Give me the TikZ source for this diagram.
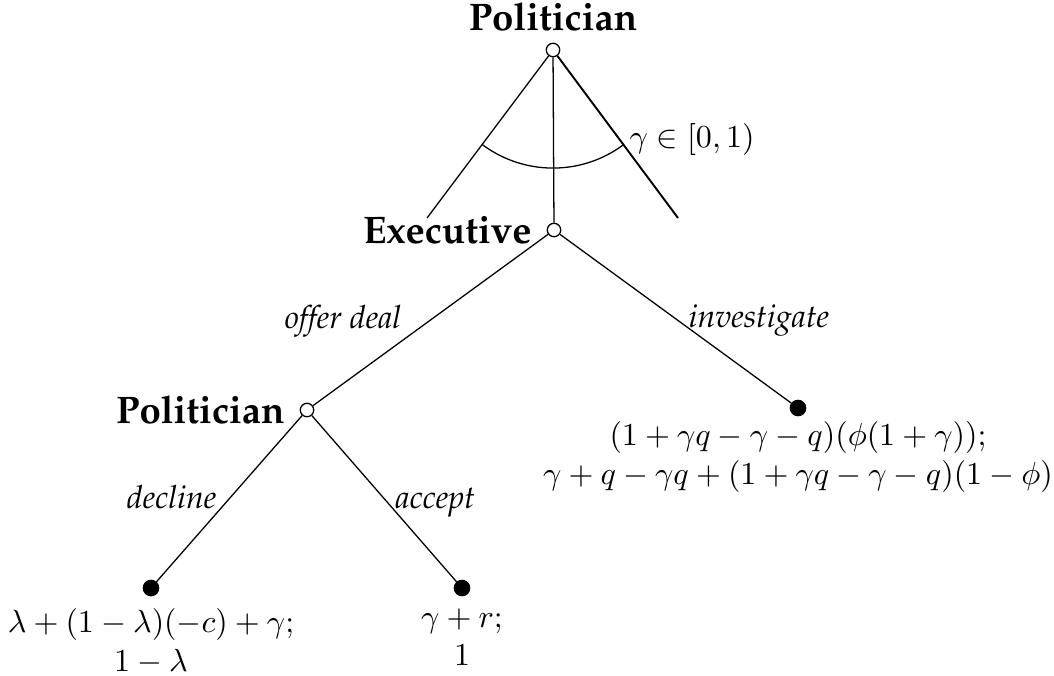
\documentclass[tikz,border=0pt]{standalone}
\usepackage[T1]{fontenc}
\renewcommand{\rmdefault}{ppl}
\usetikzlibrary{angles}
\tikzset{
  x=0.3125pt, y=-0.3125pt,
  opennode/.style={circle, draw, fill=white, inner sep=0pt, minimum size=4.2pt},
  leafnode/.style={circle, draw, fill=black, inner sep=0pt, minimum size=4.8pt},
  player/.style={font=\large\bfseries},
  edgelab/.style={font=\itshape, inner sep=0pt},
  payoff/.style={align=center, inner sep=0pt},
}
\begin{document}
\begin{tikzpicture}
\useasboundingbox (0,0) rectangle (1054,675);
% nodes
\node[opennode, label={[player, label distance=0pt]above:Politician}] (T) at (553,50) {};
\node[opennode, label={[player, label distance=1.2pt]left:Executive}] (E) at (554,230) {};
\node[opennode, label={[player, label distance=1.2pt]left:Politician}] (P) at (307,410) {};
\node[leafnode] (I) at (798,408) {};
\node[leafnode] (D) at (151,588) {};
\node[leafnode] (A) at (462,588) {};
\coordinate (L) at (427,218);
\coordinate (R) at (678,218);
% edges
\draw (T) -- (L);
\draw (T) -- (E);
\draw[line width=0.6pt] (T) -- (R);
\pic[draw, angle radius=36.9pt] {angle = L--T--R};
\draw (E) -- (P);
\draw (E) -- (I);
\draw (P) -- (D);
\draw (P) -- (A);
% labels
\node[inner sep=0pt, anchor=base west] (g) at (629,147) {$\gamma\in[0,1)$};
\node[edgelab, anchor=base east] (lo) at (402,328) {offer deal};
\node[edgelab, anchor=base west] (li) at (688,327) {investigate};
\node[edgelab, anchor=base east] (ld) at (217,508) {decline};
\node[edgelab, anchor=base west] (la) at (395,508) {accept};
% payoffs
\node[payoff, anchor=north] (pI) at (798,421) {$(1+\gamma q-\gamma-q)(\phi(1+\gamma));$\\$\gamma+q-\gamma q+(1+\gamma q-\gamma-q)(1-\phi)$};
\node[payoff, anchor=north] (pD) at (151,608) {$\lambda+(1-\lambda)(-c)+\gamma;$\\$1-\lambda$};
\node[payoff, anchor=north] (pA) at (462,608) {$\gamma+r;$\\$1$};
\end{tikzpicture}
\end{document}
